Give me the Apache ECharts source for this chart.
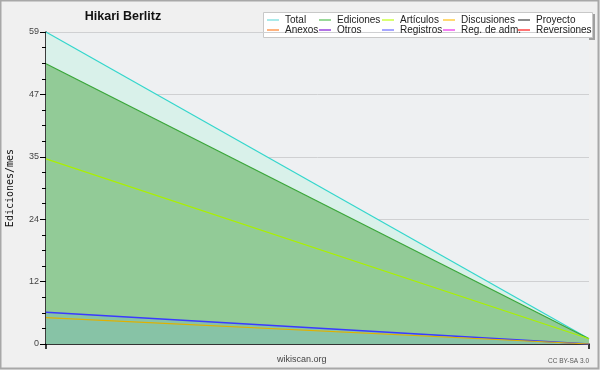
<!DOCTYPE html>
<html>
<head>
<meta charset="utf-8">
<script src="https://cdn.jsdelivr.net/npm/echarts@6/dist/echarts.min.js"></script>
<style>
html,body{margin:0;padding:0;background:#f0f0f0;}
#c{width:600px;height:370px;}
</style>
</head>
<body>
<div id="c"></div>
<script>
// ---- data ----
const months = ['mes 1', 'mes 2'];
const total = [59, 1];
const ediciones = [53, 1];
const articulos = [35, 1];
const discusiones = [5, 0];
const registros = [6, 0];
const proyecto = [];
const anexos = [];
const otros = [];
const regAdm = [];
const reversiones = [];
const yTicks = [0, 12, 24, 35, 47, 59];

const legendColumns = [
  [['Total', '#8ee3e3'], ['Anexos', '#ff9a55']],
  [['Ediciones', '#77cc77'], ['Otros', '#9944dd']],
  [['Artículos', '#ccff44'], ['Registros', '#8888ff']],
  [['Discusiones', '#ffcc44'], ['Reg. de adm.', '#ee55ee']],
  [['Proyecto', '#666666'], ['Reversiones', '#ff4444']]
];
const legendX = [267, 319, 382, 443, 518];

const FONT = '"Liberation Sans", Arial, sans-serif';

const chart = echarts.init(document.getElementById('c'), null, {renderer: 'canvas'});

function lineSeries(name, data, color, extra) {
  return Object.assign({
    name: name, type: 'line', data: data, symbol: 'none', silent: true,
    lineStyle: {color: color, width: 1.2}, itemStyle: {color: color}
  }, extra || {});
}

const legends = legendColumns.map((col, i) => ({
  left: legendX[i], top: 15, orient: 'vertical', itemGap: 0,
  itemWidth: 12, itemHeight: 1.5, icon: 'rect', padding: 0,
  selectedMode: false,
  textStyle: {fontFamily: FONT, fontSize: 10, color: '#222', padding: [0, 0, 0, 1]},
  data: col.map(([n, c]) => ({name: n, itemStyle: {color: c}}))
}));

const yMax = yTicks[yTicks.length - 1];

chart.setOption({
  animation: false,
  backgroundColor: '#f0f0f0',
  title: {
    text: 'Hikari Berlitz', left: 123, top: 10, textAlign: 'center', padding: 0,
    textStyle: {fontFamily: FONT, fontSize: 12.5, fontWeight: 'bold', color: '#111'}
  },
  legend: legends,
  grid: {left: 46, right: 11, top: 32, bottom: 26, show: true, backgroundColor: '#eef0f2', borderWidth: 0, outerBoundsMode: 'none', containLabel: false},
  xAxis: {
    type: 'category', data: months, boundaryGap: false,
    axisLine: {lineStyle: {color: '#000', width: 1.5}},
    axisTick: {show: true, length: 5, lineStyle: {color: '#000', width: 1.5}},
    axisLabel: {show: false},
    splitLine: {show: false}
  },
  yAxis: {
    type: 'value', min: 0, max: yMax, interval: yMax / 5,
    name: 'Ediciones/mes', nameLocation: 'middle', nameGap: 31, nameRotate: 90,
    nameTextStyle: {fontFamily: '"DejaVu Sans Mono", monospace', fontSize: 10, color: '#111'},
    axisLine: {show: true, lineStyle: {color: '#000', width: 1.5}},
    axisTick: {show: true, length: 6, lineStyle: {color: '#000', width: 1}},
    minorTick: {show: true, splitNumber: 4, length: 4, lineStyle: {color: '#000', width: 1}},
    axisLabel: {
      margin: 7, fontFamily: FONT, fontSize: 9, color: '#444',
      formatter: v => String(yTicks[Math.round(v / (yMax / 5))])
    },
    splitLine: {show: true, lineStyle: {color: '#cfd0d2', width: 1}}
  },
  graphic: [
    {type: 'rect', shape: {x: 0.5, y: 0.5, width: 598, height: 368}, style: {fill: 'none', stroke: '#a8a8a8', lineWidth: 2}, silent: true, z: 100},
    {type: 'rect', shape: {x: 265, y: 14, width: 330, height: 26}, style: {fill: '#a0a0a0'}, silent: true, z: -1},
    {type: 'rect', shape: {x: 263.5, y: 12.5, width: 329, height: 25}, style: {fill: '#ffffff', stroke: '#c8c8c8', lineWidth: 1}, silent: true, z: 0},
    {type: 'text', left: 277, top: 355, style: {text: 'wikiscan.org', fontFamily: FONT, fontSize: 9, fill: '#444'}, silent: true},
    {type: 'text', right: 11, top: 358, style: {text: 'CC BY-SA 3.0', fontFamily: FONT, fontSize: 6.5, fill: '#555', textAlign: 'right'}, silent: true}
  ],
  series: [
    lineSeries('Total', total, '#33d6cc', {areaStyle: {color: '#d9f1ea', opacity: 1}, z: 1}),
    lineSeries('Ediciones', ediciones, '#3aa63a', {areaStyle: {color: '#92cb97', opacity: 1}, z: 2}),
    lineSeries('Registros', registros, '#3a3aff', {areaStyle: {color: '#87c3a6', opacity: 1}, z: 3, lineStyle: {color: '#3a3aff', width: 1.5}}),
    lineSeries('Discusiones', discusiones, '#e0b000', {z: 3}),
    lineSeries('Artículos', articulos, '#aaf000', {z: 4}),
    lineSeries('Proyecto', proyecto, '#555555'),
    lineSeries('Anexos', anexos, '#ff7f2a'),
    lineSeries('Otros', otros, '#8822dd'),
    lineSeries('Reg. de adm.', regAdm, '#ee44ee'),
    lineSeries('Reversiones', reversiones, '#ff3333')
  ]
});
</script>
</body>
</html>
